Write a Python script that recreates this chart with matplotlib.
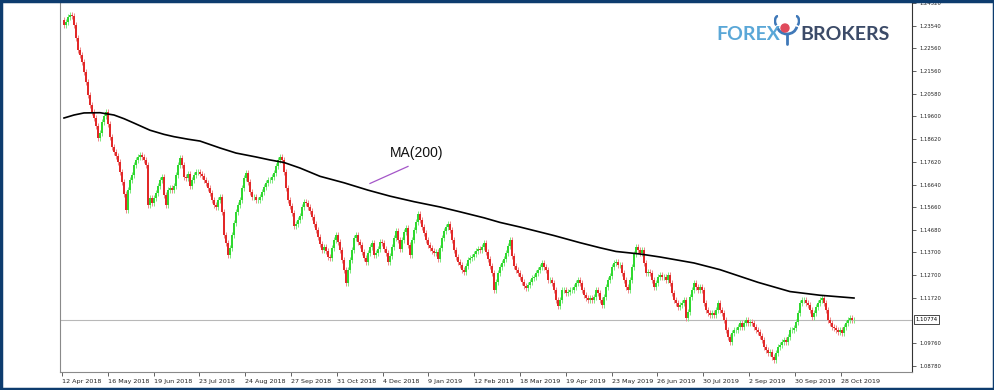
import numpy as np
import matplotlib
matplotlib.use('Agg')
import matplotlib.pyplot as plt
import matplotlib.transforms as mtransforms
from matplotlib.patches import Rectangle, Arc, Circle

# ---------------- data (daily closes, EURUSD Apr 2018 - Nov 2019) ----------------
first_open = 1.2380
closes_a = [1.2356, 1.2370, 1.2391, 1.2400, 1.2396, 1.2356, 1.2300, 1.2248, 1.2226, 1.2196,
            1.2153, 1.2109, 1.2053, 1.2009, 1.1979, 1.1953, 1.1918, 1.1866, 1.1888, 1.1936,
            1.1962, 1.1979, 1.1927, 1.1870, 1.1827, 1.1805, 1.1788, 1.1762, 1.1719, 1.1675,
            1.1623, 1.1554, 1.1640, 1.1684]
closes_b = [1.1706, 1.1749, 1.1771, 1.1784, 1.1792, 1.1784, 1.1771, 1.1749, 1.1575, 1.1606,
            1.1584, 1.1606, 1.1627, 1.1658, 1.1684, 1.1697, 1.1619, 1.1575, 1.1640, 1.1649,
            1.1640, 1.1658, 1.1706, 1.1749, 1.1779, 1.1749, 1.1697, 1.1693, 1.1710, 1.1658,
            1.1684, 1.1706, 1.1719, 1.1719, 1.1710]
closes_c = [1.1701, 1.1684, 1.1671, 1.1649, 1.1627, 1.1597, 1.1575, 1.1567, 1.1597, 1.1610,
            1.1545, 1.1445, 1.1410, 1.1358, 1.1389, 1.1445, 1.1497, 1.1545, 1.1575, 1.1597,
            1.1649, 1.1693, 1.1714, 1.1675, 1.1632, 1.1610, 1.1610, 1.1597, 1.1597, 1.1610,
            1.1632, 1.1653, 1.1671, 1.1684, 1.1684]
closes_d = [1.1697, 1.1714, 1.1745, 1.1771, 1.1784, 1.1771, 1.1719, 1.1649, 1.1597, 1.1571,
            1.1541, 1.1484, 1.1493, 1.1510, 1.1528, 1.1567, 1.1588, 1.1584, 1.1567, 1.1549,
            1.1523, 1.1493, 1.1467, 1.1436, 1.1406, 1.1380, 1.1393, 1.1376, 1.1350, 1.1345,
            1.1389, 1.1423, 1.1445, 1.1415, 1.1380]
closes_e = [1.1337, 1.1293, 1.1237, 1.1293, 1.1337, 1.1380, 1.1432, 1.1445, 1.1415, 1.1402,
            1.1371, 1.1345, 1.1328, 1.1367, 1.1393, 1.1410, 1.1358, 1.1367, 1.1384, 1.1415,
            1.1410, 1.1384, 1.1367, 1.1328, 1.1354, 1.1393, 1.1432, 1.1462, 1.1423, 1.1384,
            1.1423, 1.1458, 1.1476, 1.1402, 1.1358]
closes_f = [1.1423, 1.1467, 1.1502, 1.1536, 1.1510, 1.1480, 1.1454, 1.1423, 1.1402, 1.1389,
            1.1376, 1.1367, 1.1371, 1.1341, 1.1389, 1.1432, 1.1462, 1.1480, 1.1493, 1.1467,
            1.1423, 1.1380, 1.1350, 1.1328, 1.1315, 1.1293, 1.1285, 1.1311, 1.1337, 1.1345,
            1.1350, 1.1363, 1.1376, 1.1384, 1.1380]
closes_g = [1.1393, 1.1410, 1.1371, 1.1341, 1.1311, 1.1280, 1.1206, 1.1241, 1.1280, 1.1306,
            1.1324, 1.1341, 1.1367, 1.1397, 1.1423, 1.1354, 1.1311, 1.1293, 1.1280, 1.1263,
            1.1241, 1.1224, 1.1215, 1.1228, 1.1241, 1.1259, 1.1263, 1.1280, 1.1293, 1.1306,
            1.1324, 1.1306, 1.1293, 1.1250, 1.1250]
closes_h = [1.1237, 1.1206, 1.1163, 1.1137, 1.1163, 1.1206, 1.1206, 1.1193, 1.1198, 1.1206,
            1.1206, 1.1219, 1.1237, 1.1250, 1.1237, 1.1206, 1.1185, 1.1172, 1.1163, 1.1172,
            1.1163, 1.1176, 1.1206, 1.1193, 1.1163, 1.1141, 1.1176, 1.1219, 1.1250, 1.1267,
            1.1306, 1.1324, 1.1328, 1.1315, 1.1315]
closes_i = [1.1280, 1.1250, 1.1219, 1.1206, 1.1250, 1.1306, 1.1363, 1.1393, 1.1380, 1.1367,
            1.1380, 1.1324, 1.1280, 1.1285, 1.1280, 1.1250, 1.1219, 1.1237, 1.1263, 1.1272,
            1.1263, 1.1263, 1.1250, 1.1272, 1.1237, 1.1193, 1.1163, 1.1150, 1.1133, 1.1141,
            1.1150, 1.1163, 1.1085, 1.1111, 1.1176]
closes_j = [1.1206, 1.1237, 1.1219, 1.1206, 1.1219, 1.1206, 1.1150, 1.1120, 1.1107, 1.1098,
            1.1107, 1.1098, 1.1120, 1.1150, 1.1120, 1.1107, 1.1076, 1.1033, 1.1002, 1.0981,
            1.1020, 1.1033, 1.1033, 1.1046, 1.1063, 1.1046, 1.1063, 1.1076, 1.1063, 1.1068,
            1.1063, 1.1046, 1.1033, 1.1024, 1.1007]
closes_k = [1.0989, 1.0959, 1.0946, 1.0933, 1.0937, 1.0916, 1.0903, 1.0933, 1.0959, 1.0968,
            1.0981, 1.0989, 1.0981, 1.1002, 1.1033, 1.1033, 1.1042, 1.1068, 1.1107, 1.1150,
            1.1163, 1.1163, 1.1150, 1.1141, 1.1120, 1.1089, 1.1107, 1.1133, 1.1150, 1.1163,
            1.1172, 1.1150, 1.1120, 1.1076, 1.1063, 1.1046, 1.1042, 1.1033, 1.1024, 1.1033,
            1.1020, 1.1046, 1.1063, 1.1076, 1.1085, 1.1076, 1.1077]

# MA(200) line read at selected bars
ma_bar = [0, 5, 10, 18, 25, 30, 35, 43, 50, 55, 62, 68, 78, 86, 96, 103, 110, 118, 128,
          140, 152, 163, 175, 188, 198, 210, 218, 228, 245, 258, 268, 276, 288, 298, 315,
          328, 347, 363, 378, 395]
ma_val = [1.1953, 1.1966, 1.1975, 1.1976, 1.1966, 1.1950, 1.1931, 1.1900, 1.1882, 1.1872,
          1.1861, 1.1853, 1.1823, 1.1801, 1.1784, 1.1771, 1.1760, 1.1736, 1.1700, 1.1672,
          1.1640, 1.1614, 1.1590, 1.1567, 1.1546, 1.1520, 1.1500, 1.1480, 1.1443, 1.1412,
          1.1390, 1.1374, 1.1363, 1.1350, 1.1324, 1.1295, 1.1240, 1.1200, 1.1184, 1.1172]

last_price = 1.10774
price_ticks = [1.24520, 1.23540, 1.22560, 1.21560, 1.20580, 1.19600, 1.18620, 1.17620,
               1.16640, 1.15660, 1.14680, 1.13700, 1.12700, 1.11720, 1.09760, 1.08780]
date_labels = ['12 Apr 2018', '16 May 2018', '19 Jun 2018', '23 Jul 2018', '24 Aug 2018',
               '27 Sep 2018', '31 Oct 2018', '4 Dec 2018', '9 Jan 2019', '12 Feb 2019',
               '18 Mar 2019', '19 Apr 2019', '23 May 2019', '26 Jun 2019', '30 Jul 2019',
               '2 Sep 2019', '30 Sep 2019', '28 Oct 2019']

# ---------------- build OHLC ----------------
closes = np.array(closes_a + closes_b + closes_c + closes_d + closes_e + closes_f +
                  closes_g + closes_h + closes_i + closes_j + closes_k)
n = len(closes)
idx = np.arange(n)
opens = np.concatenate([[first_open], closes[:-1]])
wick = 0.0012
highs = np.maximum(opens, closes) + wick
lows = np.minimum(opens, closes) - wick

# ---------------- figure ----------------
W, H = 995, 390
fig = plt.figure(figsize=(W / 100, H / 100), dpi=100)
fig.patch.set_facecolor('white')
ax = fig.add_axes([60 / W, 18 / H, 852 / W, 372 / H])
ax.set_xlim(-2, 424)
ax.set_ylim(1.0851, 1.2465)

up = closes >= opens
colors = np.where(up, '#2fd82f', '#e22828')
wick_colors = np.where(up, '#7fe87f', '#ee8a8a')
ax.vlines(idx, lows, highs, colors=wick_colors, linewidth=0.7, zorder=2)
body = np.maximum(np.abs(closes - opens), 0.00018)
ax.bar(idx, body, bottom=np.minimum(opens, closes), width=0.85, color=colors,
       linewidth=0, zorder=3)

ax.plot(ma_bar, ma_val, color='black', lw=1.2, zorder=4)
ax.axhline(last_price, color='#b8b8b8', lw=0.8, zorder=1)

# MA label with pointer
ax.text(163, 1.1801, 'MA(200)', fontsize=10, ha='left', va='center', color='#111111',
        family='Liberation Sans')
ax.plot([153, 172], [1.1669, 1.1743], color='#a456c8', lw=0.9)

# axes styling
ax.spines['top'].set_visible(False)
ax.spines['left'].set_color('#8a8a8a')
ax.spines['bottom'].set_color('#8a8a8a')
ax.spines['right'].set_color('#333333')
for s in ['left', 'bottom', 'right']:
    ax.spines[s].set_linewidth(0.8)

ax.yaxis.tick_right()
ax.set_yticks(price_ticks)
ax.set_yticklabels(['%.5f' % v for v in price_ticks])
ax.tick_params(axis='y', labelsize=3.8, length=3, width=0.5, pad=2, colors='#222222')

xt = -1 + 22.9 * np.arange(len(date_labels))
ax.set_xticks(xt)
ax.set_xticklabels(date_labels)
for lbl in ax.get_xticklabels():
    lbl.set_ha('left')
ax.tick_params(axis='x', labelsize=4.6, length=3, width=0.5, pad=2, colors='#222222')

# current price box
trans = mtransforms.blended_transform_factory(ax.transAxes, ax.transData)
ax.text(1.004, last_price, '%.5f' % last_price, transform=trans, fontsize=3.9,
        ha='left', va='center', color='black',
        bbox=dict(boxstyle='square,pad=0.35', fc='white', ec='black', lw=0.5))

# logo
fig.text(716 / W, 1 - 35 / H, 'FOREX', color='#5aa7d7', fontsize=14, family='Lato',
         weight='bold', ha='left', va='center')
fig.text(800 / W, 1 - 35 / H, 'BROKERS', color='#3c4b68', fontsize=14, family='Lato',
         weight='bold', ha='left', va='center')
iax = fig.add_axes([774 / W, 1 - 47 / H, 26 / W, 32 / H])
iax.set_xlim(0, 26)
iax.set_ylim(0, 32)
iax.axis('off')
iax.add_patch(Arc((13, 22), 20, 18, theta1=190, theta2=350, color='#3f78b8', lw=2.0))
iax.add_patch(Arc((4, 26), 6, 10, theta1=90, theta2=250, color='#3f78b8', lw=1.8))
iax.add_patch(Arc((22, 26), 6, 10, theta1=-70, theta2=90, color='#3f78b8', lw=1.8))
iax.add_patch(Circle((11, 19), 4.0, color='#e04a5c'))
iax.plot([13, 13], [3, 13], color='#3f78b8', lw=2.0, solid_capstyle='round')

# outer frame
fig.patches.append(Rectangle((0.001, 0.002), 0.998, 0.996, transform=fig.transFigure,
                             fill=False, ec='#0d3c6e', lw=2.5))

fig.savefig('out.png', dpi=100)
